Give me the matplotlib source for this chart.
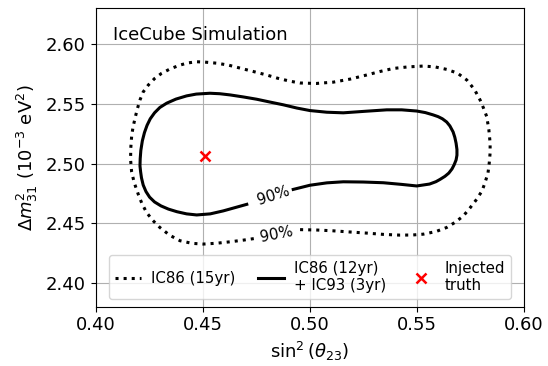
import matplotlib
matplotlib.use("Agg")
import matplotlib.pyplot as plt
import numpy as np

# 90% contour, IC86 (15yr) - dotted (starts after label gap)
ic86_x = [0.4955, 0.5030, 0.5110, 0.5190, 0.5266, 0.5345, 0.5422, 0.5480, 0.5531, 0.5590,
          0.5640, 0.5680, 0.5718, 0.5750, 0.5780, 0.5805, 0.5819, 0.5833, 0.5839, 0.5843,
          0.5843, 0.5837, 0.5827, 0.5812, 0.5796, 0.5770, 0.5734, 0.5690, 0.5640, 0.5585,
          0.5531, 0.5460, 0.5391, 0.5330, 0.5266, 0.5190, 0.5110, 0.5030, 0.4955, 0.4908,
          0.4850, 0.4799, 0.4735, 0.4674, 0.4620, 0.4565, 0.4510, 0.4472, 0.4430, 0.4394,
          0.4350, 0.4308, 0.4275, 0.4246, 0.4222, 0.4207, 0.4195, 0.4184, 0.4174, 0.4168,
          0.4164, 0.4163, 0.4168, 0.4180, 0.4199, 0.4216, 0.4238, 0.4267, 0.4300, 0.4345,
          0.4394, 0.4450, 0.4503, 0.4565, 0.4628, 0.4690, 0.4744]
ic86_y = [2.4446, 2.4443, 2.4436, 2.4426, 2.4417, 2.4406, 2.4400, 2.4401, 2.4408, 2.4430,
          2.4464, 2.4508, 2.4561, 2.4630, 2.4700, 2.4770, 2.4839, 2.4920, 2.5006, 2.5090,
          2.5172, 2.5285, 2.5394, 2.5465, 2.5533, 2.5620, 2.5700, 2.5758, 2.5789, 2.5810,
          2.5817, 2.5810, 2.5797, 2.5772, 2.5742, 2.5708, 2.5682, 2.5671, 2.5675, 2.5690,
          2.5715, 2.5742, 2.5772, 2.5800, 2.5825, 2.5841, 2.5850, 2.5853, 2.5843, 2.5825,
          2.5795, 2.5756, 2.5712, 2.5658, 2.5600, 2.5533, 2.5460, 2.5381, 2.5300, 2.5228,
          2.5130, 2.5033, 2.4930, 2.4840, 2.4742, 2.4665, 2.4589, 2.4523, 2.4464, 2.4400,
          2.4353, 2.4331, 2.4325, 2.4332, 2.4344, 2.4358, 2.4372]

# 90% contour, IC86 (12yr) + IC93 (3yr) - solid
ic93_x = [0.4923, 0.5001, 0.5080, 0.5157, 0.5250, 0.5344, 0.5430, 0.5500, 0.5560, 0.5590,
          0.5609, 0.5632, 0.5650, 0.5665, 0.5675, 0.5684, 0.5688, 0.5688, 0.5684, 0.5678,
          0.5670, 0.5655, 0.5640, 0.5620, 0.5600, 0.5576, 0.5540, 0.5500, 0.5430, 0.5360,
          0.5260, 0.5157, 0.5080, 0.5001, 0.4940, 0.4877, 0.4815, 0.4752, 0.4690, 0.4628,
          0.4580, 0.4534, 0.4470, 0.4425, 0.4375, 0.4332, 0.4300, 0.4275, 0.4255, 0.4240,
          0.4228, 0.4218, 0.4211, 0.4208, 0.4207, 0.4210, 0.4214, 0.4222, 0.4235, 0.4252,
          0.4275, 0.4305, 0.4340, 0.4380, 0.4425, 0.4472, 0.4535, 0.4596, 0.4650, 0.4706]
ic93_y = [2.4783, 2.4818, 2.4838, 2.4847, 2.4845, 2.4839, 2.4825, 2.4812, 2.4828, 2.4848,
          2.4867, 2.4893, 2.4920, 2.4955, 2.4990, 2.5030, 2.5070, 2.5117, 2.5170, 2.5220,
          2.5265, 2.5315, 2.5348, 2.5375, 2.5393, 2.5408, 2.5427, 2.5440, 2.5450, 2.5450,
          2.5438, 2.5425, 2.5430, 2.5444, 2.5465, 2.5492, 2.5515, 2.5539, 2.5558, 2.5575,
          2.5585, 2.5589, 2.5582, 2.5567, 2.5540, 2.5506, 2.5470, 2.5425, 2.5375, 2.5320,
          2.5260, 2.5190, 2.5110, 2.5040, 2.4980, 2.4930, 2.4880, 2.4820, 2.4765, 2.4718,
          2.4678, 2.4645, 2.4618, 2.4596, 2.4578, 2.4569, 2.4578, 2.4603, 2.4630, 2.4658]

truth_x = 0.4511
truth_y = 2.5067

# contour label positions / angles
label_text = "90%"
ic86_label = (0.4846, 2.4408, 11)
ic93_label = (0.4829, 2.4728, 18)

fig = plt.figure(figsize=(5.48, 3.66), dpi=100)
ax = fig.add_axes([0.1746, 0.162, 0.7811, 0.815])

ax.grid(True, color="#b0b0b0", lw=0.8)
ax.set_axisbelow(True)

ax.plot(ic86_x, ic86_y, color="k", lw=2.2, linestyle=":", label="IC86 (15yr)")
ax.plot(ic93_x, ic93_y, color="k", lw=2.2, linestyle="-", label="IC86 (12yr)\n+ IC93 (3yr)")
ax.plot(truth_x, truth_y, "x", color="red", ms=7, mew=1.8, linestyle="none", label="Injected\ntruth")

for (lx, ly, rot) in [ic86_label, ic93_label]:
    ax.text(lx, ly, label_text, rotation=rot, ha="center", va="center",
            fontsize=10.8, rotation_mode="anchor")

ax.text(0.04, 0.94, "IceCube Simulation", transform=ax.transAxes,
        ha="left", va="top", fontsize=13)

ax.set_xlim(0.40, 0.60)
ax.set_ylim(2.38, 2.63)
ax.set_xticks(np.arange(0.40, 0.601, 0.05))
ax.set_yticks(np.arange(2.40, 2.601, 0.05))
ax.tick_params(labelsize=13)
ax.set_xlabel(r"$\sin^2(\theta_{23})$", fontsize=13)
ax.set_ylabel(r"$\Delta m^2_{31}$ $(10^{-3}$ eV$^2)$", fontsize=13)

ax.legend(loc="lower center", ncol=3, fontsize=10.8,
          handlelength=1.75, handletextpad=0.65, columnspacing=1.5)

fig.savefig("out.png", dpi=100)
